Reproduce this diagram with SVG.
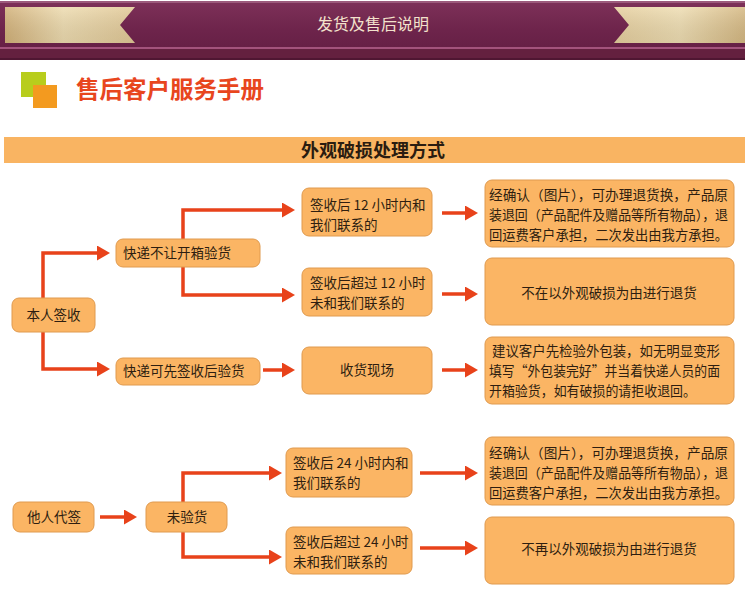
<svg xmlns="http://www.w3.org/2000/svg" width="745" height="590" viewBox="0 0 745 590">
<defs>
<linearGradient id="maroon" x1="0" y1="0" x2="0" y2="1">
<stop offset="0" stop-color="#7e3159"/>
<stop offset="0.5" stop-color="#6d244b"/>
<stop offset="1" stop-color="#621d42"/>
</linearGradient>
<linearGradient id="goldL" x1="0" y1="0" x2="1" y2="0">
<stop offset="0" stop-color="#d3b27a"/>
<stop offset="0.45" stop-color="#eedcb0"/>
<stop offset="1" stop-color="#e2c997"/>
</linearGradient>
<linearGradient id="goldR" x1="0" y1="0" x2="1" y2="0">
<stop offset="0" stop-color="#e6cf9e"/>
<stop offset="0.5" stop-color="#efdeb3"/>
<stop offset="1" stop-color="#d6b983"/>
</linearGradient>
<linearGradient id="shade" x1="0" y1="0" x2="0" y2="1">
<stop offset="0" stop-color="#ffffff" stop-opacity="0.15"/>
<stop offset="1" stop-color="#000000" stop-opacity="0.08"/>
</linearGradient>
<marker id="ah" markerUnits="userSpaceOnUse" markerWidth="13" markerHeight="15" viewBox="0 0 13 15" refX="1" refY="7.5" orient="auto">
<path d="M0,0 L13,7.5 L0,15 z" fill="#e8421a"/>
</marker>
</defs>
<style>
.node{fill:#fbb564;stroke:#e09a4e;stroke-width:1}
.t{font-family:"Noto Sans CJK SC","Noto Sans",sans-serif;font-size:13.5px;fill:#2e1e10}
.c{text-anchor:middle}
.conn{fill:none;stroke:#e8421a;stroke-width:3.5;marker-end:url(#ah)}
</style>
<rect width="745" height="590" fill="#ffffff"/>
<g id="header">
<rect x="0" y="1" width="745" height="59" fill="url(#maroon)"/>
<rect x="0" y="1" width="745" height="2" fill="#9c5a7c"/>
<rect x="0" y="47" width="745" height="2" fill="#a3537c"/>
<rect x="0" y="49" width="745" height="11" fill="#64203f"/>
<rect x="0" y="58" width="745" height="2" fill="#4f1632"/>
<polygon points="5,7 135,7 120,25 135,43 5,43" fill="url(#goldL)"/>
<polygon points="5,7 135,7 120,25 135,43 5,43" fill="url(#shade)"/>
<polygon points="614,7 745,7 745,43 614,43 629,25" fill="url(#goldR)"/>
<polygon points="614,7 745,7 745,43 614,43 629,25" fill="url(#shade)"/>
<text x="373" y="30" text-anchor="middle" font-family="'Noto Sans CJK SC',sans-serif" font-size="16" fill="#f3e2cc">发货及售后说明</text>
</g>
<g id="title">
<rect x="21" y="72" width="25" height="25" fill="#b8cd1c"/>
<rect x="33" y="85" width="24" height="23" fill="#f39a1f"/>
<text x="76" y="98" font-family="'Noto Sans CJK SC',sans-serif" font-size="23.5" font-weight="bold" fill="#e8461e">售后客户服务手册</text>
</g>
<g id="bar">
<rect x="4" y="137" width="741" height="26" fill="#f9b462"/>
<text x="373" y="157" text-anchor="middle" font-family="'Noto Sans CJK SC',sans-serif" font-size="18" font-weight="bold" fill="#2a1c10">外观破损处理方式</text>
</g>
<g id="connectors">
<polyline class="conn" points="43,298 43,253 98,253"/>
<polyline class="conn" points="43,332 43,369 98,369"/>
<polyline class="conn" points="183,239 183,210 283,210"/>
<polyline class="conn" points="183,267 183,295 283,295"/>
<polyline class="conn" points="263,370 283,370"/>
<polyline class="conn" points="442,213 466,213"/>
<polyline class="conn" points="442,294 466,294"/>
<polyline class="conn" points="442,370 466,370"/>
<polyline class="conn" points="100,517 125,517"/>
<polyline class="conn" points="183,502 183,473 270,473"/>
<polyline class="conn" points="183,532 183,557 270,557"/>
<polyline class="conn" points="420,473 466,473"/>
<polyline class="conn" points="420,548 466,548"/>
</g>
<g id="n-benren">
<rect class="node" x="12" y="298" width="83" height="34" rx="7"/>
<text class="t c" x="53.5" y="320">本人签收</text>
</g>
<g id="n-bukai">
<rect class="node" x="116" y="239" width="144" height="28" rx="7"/>
<text class="t" x="123" y="258">快递不让开箱验货</text>
</g>
<g id="n-kexian">
<rect class="node" x="116" y="358" width="144" height="27" rx="7"/>
<text class="t" x="123" y="376">快递可先签收后验货</text>
</g>
<g id="n-12nei">
<rect class="node" x="302" y="188" width="130" height="48" rx="7"/>
<text class="t" x="310" y="210">签收后 12 小时内和</text>
<text class="t" x="310" y="230">我们联系的</text>
</g>
<g id="n-12wai">
<rect class="node" x="302" y="268" width="130" height="48" rx="7"/>
<text class="t" x="310" y="288">签收后超过 12 小时</text>
<text class="t" x="310" y="308">未和我们联系的</text>
</g>
<g id="n-xianchang">
<rect class="node" x="302" y="347" width="130" height="47" rx="7"/>
<text class="t c" x="367" y="375">收货现场</text>
</g>
<g id="n-r1">
<rect class="node" x="485" y="180" width="249" height="67" rx="7"/>
<text class="t" x="489" y="200" textLength="239" lengthAdjust="spacingAndGlyphs">经确认（图片），可办理退货换，产品原</text>
<text class="t" x="489" y="220" textLength="239" lengthAdjust="spacingAndGlyphs">装退回（产品配件及赠品等所有物品），退</text>
<text class="t" x="489" y="240" textLength="239" lengthAdjust="spacingAndGlyphs">回运费客户承担，二次发出由我方承担。</text>
</g>
<g id="n-r2">
<rect class="node" x="485" y="258" width="249" height="67" rx="7"/>
<text class="t c" x="609" y="298">不在以外观破损为由进行退货</text>
</g>
<g id="n-r3">
<rect class="node" x="485" y="337" width="249" height="67" rx="7"/>
<text class="t" x="492" y="356" textLength="228" lengthAdjust="spacingAndGlyphs">建议客户先检验外包装，如无明显变形</text>
<text class="t" x="489" y="376" textLength="231" lengthAdjust="spacingAndGlyphs">填写“外包装完好”并当着快递人员的面</text>
<text class="t" x="489" y="396" textLength="207" lengthAdjust="spacingAndGlyphs">开箱验货，如有破损的请拒收退回。</text>
</g>
<g id="n-taren">
<rect class="node" x="13" y="502" width="81" height="30" rx="7"/>
<text class="t c" x="54" y="522">他人代签</text>
</g>
<g id="n-weiyan">
<rect class="node" x="146" y="502" width="81" height="30" rx="7"/>
<text class="t c" x="187" y="522">未验货</text>
</g>
<g id="n-24nei">
<rect class="node" x="286" y="448" width="126" height="49" rx="7"/>
<text class="t" x="293" y="468">签收后 24 小时内和</text>
<text class="t" x="293" y="488">我们联系的</text>
</g>
<g id="n-24wai">
<rect class="node" x="286" y="527" width="126" height="47" rx="7"/>
<text class="t" x="293" y="547">签收后超过 24 小时</text>
<text class="t" x="293" y="567">未和我们联系的</text>
</g>
<g id="n-r4">
<rect class="node" x="485" y="437" width="249" height="68" rx="7"/>
<text class="t" x="489" y="458" textLength="239" lengthAdjust="spacingAndGlyphs">经确认（图片），可办理退货换，产品原</text>
<text class="t" x="489" y="478" textLength="239" lengthAdjust="spacingAndGlyphs">装退回（产品配件及赠品等所有物品），退</text>
<text class="t" x="489" y="498" textLength="239" lengthAdjust="spacingAndGlyphs">回运费客户承担，二次发出由我方承担。</text>
</g>
<g id="n-r5">
<rect class="node" x="485" y="517" width="249" height="67" rx="7"/>
<text class="t c" x="609" y="554">不再以外观破损为由进行退货</text>
</g>
</svg>
